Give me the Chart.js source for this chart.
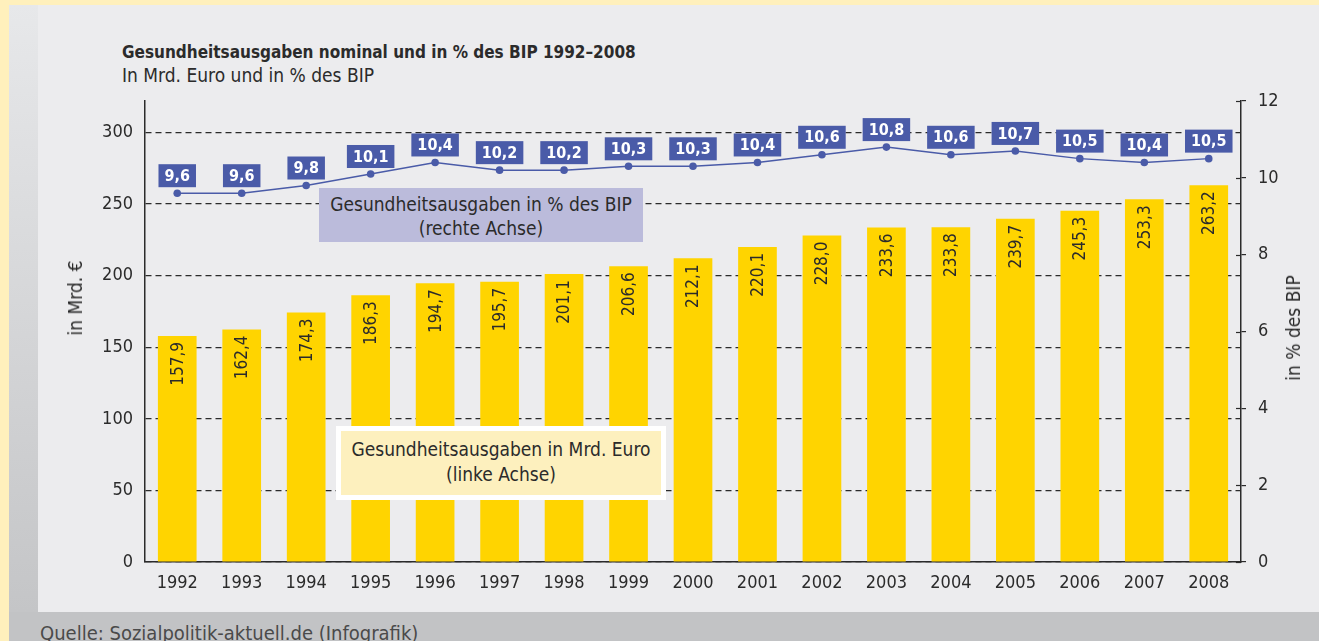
<!DOCTYPE html>
<html>
<head>
<meta charset="utf-8">
<script src="https://cdn.jsdelivr.net/npm/chart.js@4"></script>
<style>
  body { margin: 0; width: 1319px; height: 641px; overflow: hidden; background: #fff0bc; position: relative;
         font-family: "Liberation Sans Narrow", "DejaVu Sans Condensed", sans-serif; color: #2b2b2b; }
  .abs { position: absolute; }
  #frame { left: 9px; top: 5px; width: 1310px; height: 636px; background: #c2c3c5; }
  #strip { left: 9px; top: 5px; width: 29px; height: 607px; background: linear-gradient(#e7e8ea, #c4c5c7); }
  #panel { left: 38px; top: 5px; width: 1281px; height: 607px; background: #ececee; }
  #title { left: 122px; top: 42px; font-size: 17px; font-weight: bold; white-space: nowrap; }
  #sub { left: 122px; top: 64px; font-size: 19px; white-space: nowrap; }
  #src { left: 40px; top: 621px; font-size: 20px; color: #4a4a4a; white-space: nowrap; }
  .ytitle { font-size: 19px; white-space: nowrap; transform: translate(-50%, -50%) rotate(-90deg); }
  #box1 { left: 319px; top: 188px; width: 324px; height: 54px; background: #bbbbdb; font-size: 19px;
          text-align: center; line-height: 24px; padding-top: 4px; box-sizing: border-box; }
  #box2 { left: 336px; top: 426px; width: 330px; height: 74px; background: #fff; padding: 5px; box-sizing: border-box; }
  #box2 div { background: #fdf0be; height: 64px; font-size: 19px; text-align: center; line-height: 25px;
              padding-top: 6px; box-sizing: border-box; }
  canvas { position: absolute; left: 0; top: 0; }
</style>
</head>
<body>
<div id="frame" class="abs"></div>
<div id="strip" class="abs"></div>
<div id="panel" class="abs"></div>
<div id="title" class="abs">Gesundheitsausgaben nominal und in % des BIP 1992–2008</div>
<div id="sub" class="abs">In Mrd. Euro und in % des BIP</div>
<div id="src" class="abs">Quelle: Sozialpolitik-aktuell.de (Infografik)</div>
<canvas id="chart" width="1319" height="641"></canvas>
<div class="abs ytitle" style="left:75px; top:298px;">in Mrd. €</div>
<div class="abs ytitle" style="left:1293px; top:328px;">in % des BIP</div>
<div id="box1" class="abs">Gesundheitsausgaben in % des BIP<br>(rechte Achse)</div>
<div id="box2" class="abs"><div>Gesundheitsausgaben in Mrd. Euro<br>(linke Achse)</div></div>
<script>
const years = ['1992', '1993', '1994', '1995', '1996', '1997', '1998', '1999', '2000',
               '2001', '2002', '2003', '2004', '2005', '2006', '2007', '2008'];
const ausgaben = [157.9, 162.4, 174.3, 186.3, 194.7, 195.7, 201.1, 206.6, 212.1,
                  220.1, 228.0, 233.6, 233.8, 239.7, 245.3, 253.3, 263.2];
const anteilBip = [9.6, 9.6, 9.8, 10.1, 10.4, 10.2, 10.2, 10.3, 10.3,
                   10.4, 10.6, 10.8, 10.6, 10.7, 10.5, 10.4, 10.5];
const leftTicks = [0, 50, 100, 150, 200, 250, 300];

const FONT = '"Liberation Sans Narrow", "DejaVu Sans Condensed", sans-serif';
const DARK = '#2b2b2b';
const BLUE = '#4a5ba8';

function komma(v) { return v.toFixed(1).replace('.', ','); }

// value labels: rotated inside the bars, boxed above the points
const labelPlugin = {
  id: 'labels',
  afterDatasetsDraw(chart) {
    const ctx = chart.ctx;
    const bars = chart.getDatasetMeta(0).data;
    ctx.save();
    ctx.font = '17px ' + FONT;
    ctx.fillStyle = DARK;
    ctx.textAlign = 'right';
    ctx.textBaseline = 'middle';
    bars.forEach(function(bar, i) {
      ctx.save();
      ctx.translate(bar.x + 1, bar.y + 6);
      ctx.rotate(-Math.PI / 2);
      ctx.fillText(komma(ausgaben[i]), 0, 0);
      ctx.restore();
    });
    const pts = chart.getDatasetMeta(1).data;
    ctx.font = 'bold 16px ' + FONT;
    ctx.textAlign = 'center';
    pts.forEach(function(p, i) {
      const txt = komma(anteilBip[i]);
      const w = ctx.measureText(txt).width + 12;
      const h = 23;
      ctx.fillStyle = BLUE;
      ctx.fillRect(p.x - w / 2, p.y - 6 - h, w, h);
      ctx.fillStyle = '#fff';
      ctx.fillText(txt, p.x, p.y - 6 - h / 2 + 1);
    });
    ctx.restore();
  }
};

// right axis ticks cross the axis line
const crossTicks = {
  id: 'crossTicks',
  afterDraw(chart) {
    const s = chart.scales.y2;
    const ctx = chart.ctx;
    ctx.save();
    ctx.strokeStyle = DARK;
    ctx.lineWidth = 1.2;
    s.ticks.forEach(function(t) {
      const y = Math.round(s.getPixelForValue(t.value)) + 0.5;
      ctx.beginPath();
      ctx.moveTo(s.left - 5, y);
      ctx.lineTo(s.left, y);
      ctx.stroke();
    });
    ctx.restore();
  }
};

Chart.defaults.font.family = FONT;
Chart.defaults.font.size = 18;
Chart.defaults.color = DARK;

new Chart(document.getElementById('chart'), {
  data: {
    labels: years,
    datasets: [
      {
        type: 'bar',
        data: ausgaben,
        yAxisID: 'y',
        backgroundColor: '#ffd400',
        categoryPercentage: 1,
        barPercentage: 0.6,
        order: 2
      },
      {
        type: 'line',
        data: anteilBip,
        yAxisID: 'y2',
        borderColor: BLUE,
        borderWidth: 1.5,
        pointRadius: 3.8,
        pointBackgroundColor: BLUE,
        pointBorderWidth: 0,
        order: 1
      }
    ]
  },
  options: {
    responsive: false,
    animation: false,
    layout: { padding: { top: 101, left: 0, right: 0, bottom: 0 } },
    plugins: { legend: { display: false }, tooltip: { enabled: false } },
    scales: {
      x: {
        offset: true,
        grid: { display: false, drawTicks: false },
        border: { display: true, color: DARK, width: 1.5 },
        ticks: { padding: 11, maxRotation: 0 },
        afterFit: function(s) { s.height = 79; }
      },
      y: {
        position: 'left',
        min: 0,
        max: 322,
        afterBuildTicks: function(s) {
          s.ticks = leftTicks.map(function(v) { return { value: v }; });
        },
        grid: { color: DARK, lineWidth: 1.2, drawTicks: false },
        border: { display: true, color: DARK, width: 1.5, dash: [6, 4] },
        ticks: { padding: 12 },
        afterFit: function(s) { s.width = 145; }
      },
      y2: {
        position: 'right',
        min: 0,
        max: 12,
        ticks: { stepSize: 2, padding: 12 },
        grid: { drawOnChartArea: false, drawTicks: true, tickLength: 5, color: DARK, lineWidth: 1.2 },
        border: { display: true, color: DARK, width: 1.5 },
        afterFit: function(s) { s.width = 78; }
      }
    }
  },
  plugins: [labelPlugin, crossTicks]
});
</script>
</body>
</html>
